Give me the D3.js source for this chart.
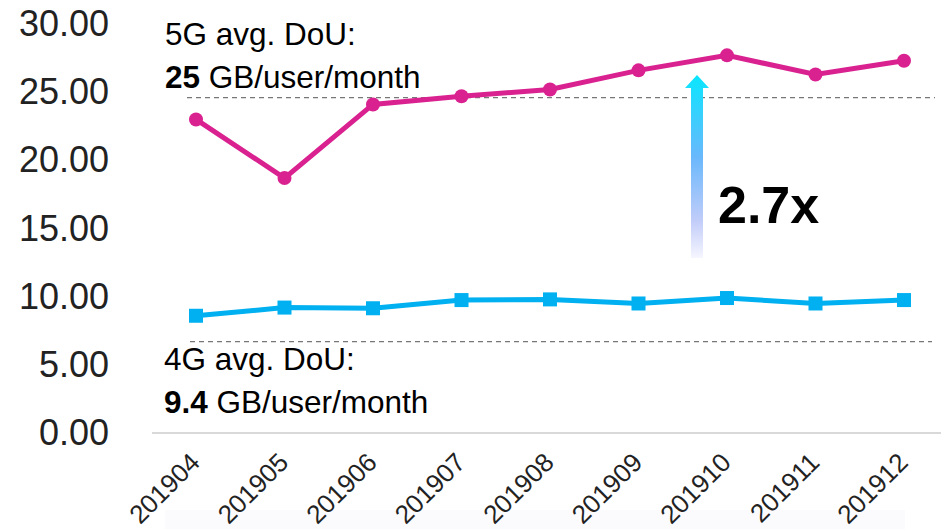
<!DOCTYPE html>
<html lang="en-US">
<head>
<meta charset="UTF-8">
<title>5G vs 4G DoU</title>
<script src="https://cdn.jsdelivr.net/npm/d3@7"></script>
<style>
  body { margin: 0; background: #fff; }
  svg { display: block; font-family: "Liberation Sans", Arial, sans-serif; }
</style>
</head>
<body>
<div id="chart"></div>
<script>
  // data
  const months = ["201904", "201905", "201906", "201907", "201908", "201909", "201910", "201911", "201912"];
  const dou5g = [23.0, 18.7, 24.1, 24.7, 25.2, 26.6, 27.7, 26.3, 27.3];
  const dou4g = [8.6, 9.2, 9.15, 9.75, 9.8, 9.5, 9.9, 9.5, 9.75];
  const yTicks = [0, 5, 10, 15, 20, 25, 30];
  const ref5g = 24.6;   // dashed guide under the 5G note
  const ref4g = 6.7;    // dashed guide above the 4G note

  let width = 941;
  let height = 529;

  const svg = d3.select("#chart")
                .append("svg")
                .attr("width", width)
                .attr("height", height);

  const x = d3.scalePoint()
              .domain(months)
              .range([196, 904]);

  const y = d3.scaleLinear()
              .domain([0, 30])
              .range([433, 24]);

  // faint band at the very bottom
  svg.append("rect")
     .attr("x", 165).attr("y", 510)
     .attr("width", 740).attr("height", 19)
     .style("fill", "#fbfbfe");

  // baseline
  svg.append("line")
     .attr("x1", 152).attr("x2", width)
     .attr("y1", y(0)).attr("y2", y(0))
     .style("stroke", "#d9d9d9")
     .style("stroke-width", 2);

  // y axis
  const yAxisG = svg.append("g")
                    .attr("transform", "translate(109,0)")
                    .call(d3.axisLeft(y).tickValues(yTicks).tickSize(0).tickPadding(0).tickFormat(d3.format(".2f")));
  yAxisG.select(".domain").remove();
  yAxisG.selectAll("text")
        .style("font-size", "36px")
        .style("font-family", "'Liberation Sans', Arial, sans-serif")
        .attr("fill", "#222");

  // x axis
  const xAxisG = svg.append("g")
                    .attr("transform", "translate(0," + y(0) + ")")
                    .call(d3.axisBottom(x).tickSize(0).tickPadding(0));
  xAxisG.select(".domain").remove();
  xAxisG.selectAll("text")
        .style("font-size", "26px")
        .style("font-family", "'Liberation Sans', Arial, sans-serif")
        .attr("fill", "#222")
        .attr("text-anchor", "end")
        .attr("dy", 0)
        .attr("transform", "translate(5,31) rotate(-45)");

  // dashed guides
  svg.append("line")
     .attr("x1", 187).attr("x2", 935)
     .attr("y1", y(ref5g)).attr("y2", y(ref5g))
     .style("stroke", "#777").style("stroke-width", 1.3)
     .style("stroke-dasharray", "5,4");
  svg.append("line")
     .attr("x1", 190).attr("x2", 932)
     .attr("y1", y(ref4g)).attr("y2", y(ref4g))
     .style("stroke", "#777").style("stroke-width", 1.3)
     .style("stroke-dasharray", "5,4");

  // 5G series
  const line5g = d3.line()
                   .x((d, i) => x(months[i]))
                   .y(d => y(d));
  svg.append("path")
     .datum(dou5g)
     .attr("d", line5g)
     .style("fill", "none")
     .style("stroke", "#da2190")
     .style("stroke-width", 5);
  svg.append("g")
     .selectAll("circle")
     .data(dou5g)
     .enter()
     .append("circle")
       .attr("cx", (d, i) => x(months[i]))
       .attr("cy", d => y(d))
       .attr("r", 7)
       .style("fill", "#da2190");

  // 4G series
  const line4g = d3.line()
                   .x((d, i) => x(months[i]))
                   .y(d => y(d));
  svg.append("path")
     .datum(dou4g)
     .attr("d", line4g)
     .style("fill", "none")
     .style("stroke", "#00b0f0")
     .style("stroke-width", 5);
  svg.append("g")
     .selectAll("rect")
     .data(dou4g)
     .enter()
     .append("rect")
       .attr("x", (d, i) => x(months[i]) - 7)
       .attr("y", d => y(d) - 7)
       .attr("width", 14)
       .attr("height", 14)
       .style("fill", "#00b0f0");

  // gradient arrow
  const defs = svg.append("defs");
  const grad = defs.append("linearGradient")
                   .attr("id", "arrowGrad")
                   .attr("gradientUnits", "userSpaceOnUse")
                   .attr("x1", 0).attr("x2", 0)
                   .attr("y1", 75).attr("y2", 258);
  grad.append("stop").attr("offset", "0%").attr("stop-color", "#0ae6ff");
  grad.append("stop").attr("offset", "45%").attr("stop-color", "#6ab8fc");
  grad.append("stop").attr("offset", "80%").attr("stop-color", "#c2cdf9");
  grad.append("stop").attr("offset", "100%").attr("stop-color", "#f6f6ff");

  let ax = 697;
  svg.append("path")
     .attr("d", "M" + ax + ",75 L" + (ax + 12) + ",88 L" + (ax + 6) + ",88 L" + (ax + 6) + ",258 L" + (ax - 6) + ",258 L" + (ax - 6) + ",88 L" + (ax - 12) + ",88 Z")
     .style("fill", "url(#arrowGrad)");

  svg.append("text")
     .attr("x", 718).attr("y", 223)
     .text("2.7x")
     .style("font-size", "52px")
     .style("font-weight", "bold")
     .attr("fill", "#000");

  // notes
  const note5 = svg.append("text").attr("x", 165).attr("y", 45)
                   .style("font-size", "31.5px").attr("fill", "#000");
  note5.append("tspan").text("5G avg. DoU:");
  note5.append("tspan").attr("x", 165).attr("dy", 43).style("font-weight", "bold").text("25");
  note5.append("tspan").text(" GB/user/month");

  const note4 = svg.append("text").attr("x", 164).attr("y", 370)
                   .style("font-size", "31.5px").attr("fill", "#000");
  note4.append("tspan").text("4G avg. DoU:");
  note4.append("tspan").attr("x", 164).attr("dy", 43).style("font-weight", "bold").text("9.4");
  note4.append("tspan").text(" GB/user/month");
</script>
</body>
</html>
